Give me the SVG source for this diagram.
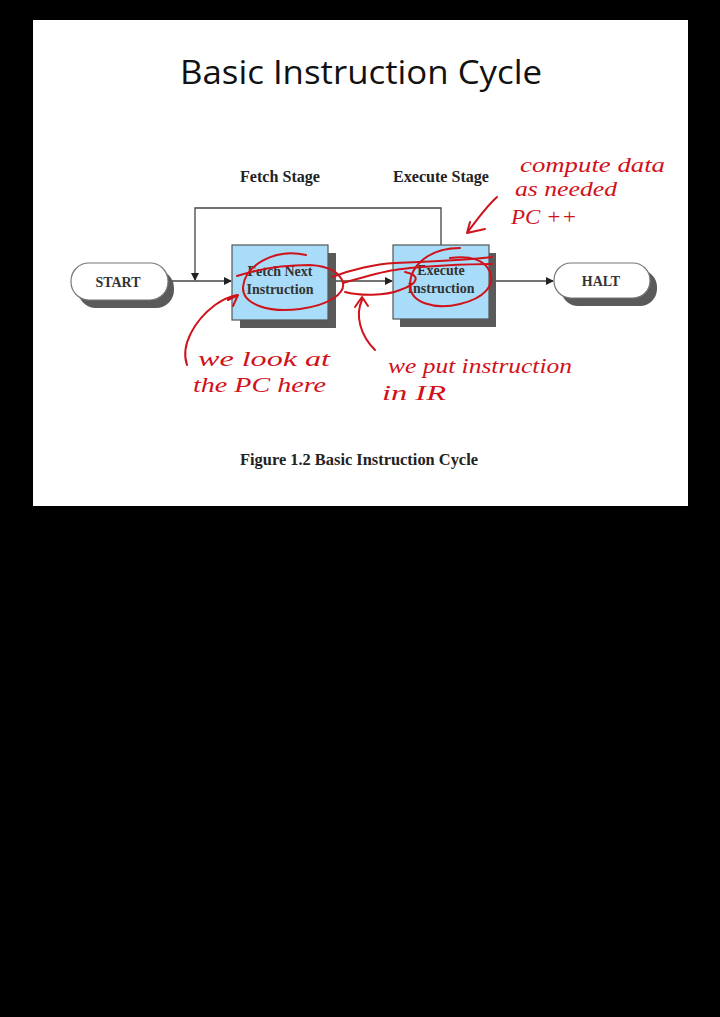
<svg xmlns="http://www.w3.org/2000/svg" width="720" height="1017" viewBox="0 0 720 1017">
<style>
.t{font-family:"Liberation Serif",serif;font-weight:bold;fill:#222;font-size:17px}
.node{font-family:"Liberation Serif",serif;font-weight:bold;fill:#333;font-size:14px}
.hw{font-family:"Liberation Serif",serif;font-style:italic;fill:#d0121b;font-size:21px}
.ink{fill:none;stroke:#d0121b;stroke-width:2;stroke-linecap:round;stroke-linejoin:round}
.ln{fill:none;stroke:#444;stroke-width:1.3}
.shadow{fill:#5a5a5a}
.box{fill:#a8dcf8;stroke:#555;stroke-width:1.2}
.pill{fill:#fff;stroke:#777;stroke-width:1.2}
</style>
<defs>
<marker id="ah" markerWidth="8" markerHeight="8" refX="7" refY="4" orient="auto" markerUnits="userSpaceOnUse">
<path d="M0,0 L8,4 L0,8 Z" fill="#222"/>
</marker>
</defs>
<rect x="0" y="0" width="720" height="1017" fill="#000"/>
<rect x="33" y="20" width="655" height="486" fill="#fff"/>
<text x="361" y="84" text-anchor="middle" font-family="'Open Sans','Liberation Sans',sans-serif" font-size="33" fill="#111" textLength="362" lengthAdjust="spacingAndGlyphs">Basic Instruction Cycle</text>
<text class="t" x="280" y="182" text-anchor="middle" textLength="80" lengthAdjust="spacingAndGlyphs">Fetch Stage</text>
<text class="t" x="441" y="182" text-anchor="middle" textLength="96" lengthAdjust="spacingAndGlyphs">Execute Stage</text>
<g id="connectors">
<path class="ln" d="M441,245 V208 H195 V280" marker-end="url(#ah)"/>
<path class="ln" d="M168,281 H231" marker-end="url(#ah)"/>
<path class="ln" d="M328,281 H392" marker-end="url(#ah)"/>
<path class="ln" d="M489,281 H553" marker-end="url(#ah)"/>
</g>
<g id="start">
<rect class="shadow" x="78" y="270" width="96" height="38" rx="18"/>
<rect class="pill" x="71" y="263" width="97" height="37" rx="18"/>
<text class="node" x="118" y="287" text-anchor="middle">START</text>
</g>
<g id="fetch">
<rect class="shadow" x="240" y="253" width="96" height="75"/>
<rect class="box" x="232" y="245" width="96" height="75"/>
<text class="node" x="280" y="276" text-anchor="middle">Fetch Next</text>
<text class="node" x="280" y="294" text-anchor="middle">Instruction</text>
</g>
<g id="execute">
<rect class="shadow" x="400" y="253" width="96" height="74"/>
<rect class="box" x="393" y="245" width="96" height="74"/>
<text class="node" x="441" y="275" text-anchor="middle">Execute</text>
<text class="node" x="441" y="293" text-anchor="middle">Instruction</text>
</g>
<g id="halt">
<rect class="shadow" x="561" y="270" width="96" height="36" rx="17"/>
<rect class="pill" x="554" y="263" width="96" height="35" rx="17"/>
<text class="node" x="601" y="286" text-anchor="middle">HALT</text>
</g>
<text class="t" x="359" y="465" text-anchor="middle" textLength="238" lengthAdjust="spacingAndGlyphs">Figure 1.2  Basic Instruction Cycle</text>
<g id="annotations">
<path class="ink" d="M306,255 C275,248 245,265 243,287 C242,305 270,313 300,309 C330,305 345,293 343,283 C340,272 328,266 310,265 C280,265 255,270 237,276"/>
<path class="ink" d="M332,277 C350,270 375,264 395,263 C420,262 470,260 492,257"/>
<path class="ink" d="M343,283 C360,278 380,272 395,270 C420,266 470,264 492,264"/>
<path class="ink" d="M345,292 C360,296 385,296 400,290 C420,283 420,275 405,272"/>
<path class="ink" d="M460,248 C430,248 410,265 410,285 C410,303 435,310 460,304 C485,298 495,285 490,272 C485,260 470,255 450,258"/>
<path class="ink" d="M187,365 C180,345 195,320 215,305 C225,298 232,296 237,295 M228,300 L238,295 L233,306"/>
<path class="ink" d="M375,350 C360,335 355,315 362,300 M355,307 L362,297 L368,306"/>
<path class="ink" d="M497,197 C488,205 478,218 467,233 M467,233 L485,229 M467,233 L470,222"/>
<text class="hw" x="520" y="172" font-size="18" textLength="145" lengthAdjust="spacingAndGlyphs">compute data</text>
<text class="hw" x="515" y="196" font-size="18" textLength="102" lengthAdjust="spacingAndGlyphs">as needed</text>
<text class="hw" x="511" y="224" font-size="24" textLength="66" lengthAdjust="spacingAndGlyphs">PC ++</text>
<text class="hw" x="198" y="366" textLength="132" lengthAdjust="spacingAndGlyphs">we look at</text>
<text class="hw" x="193" y="392" textLength="133" lengthAdjust="spacingAndGlyphs">the PC here</text>
<text class="hw" x="388" y="373" textLength="184" lengthAdjust="spacingAndGlyphs">we put instruction</text>
<text class="hw" x="382" y="400" textLength="64" lengthAdjust="spacingAndGlyphs">in IR</text>
</g>
</svg>
